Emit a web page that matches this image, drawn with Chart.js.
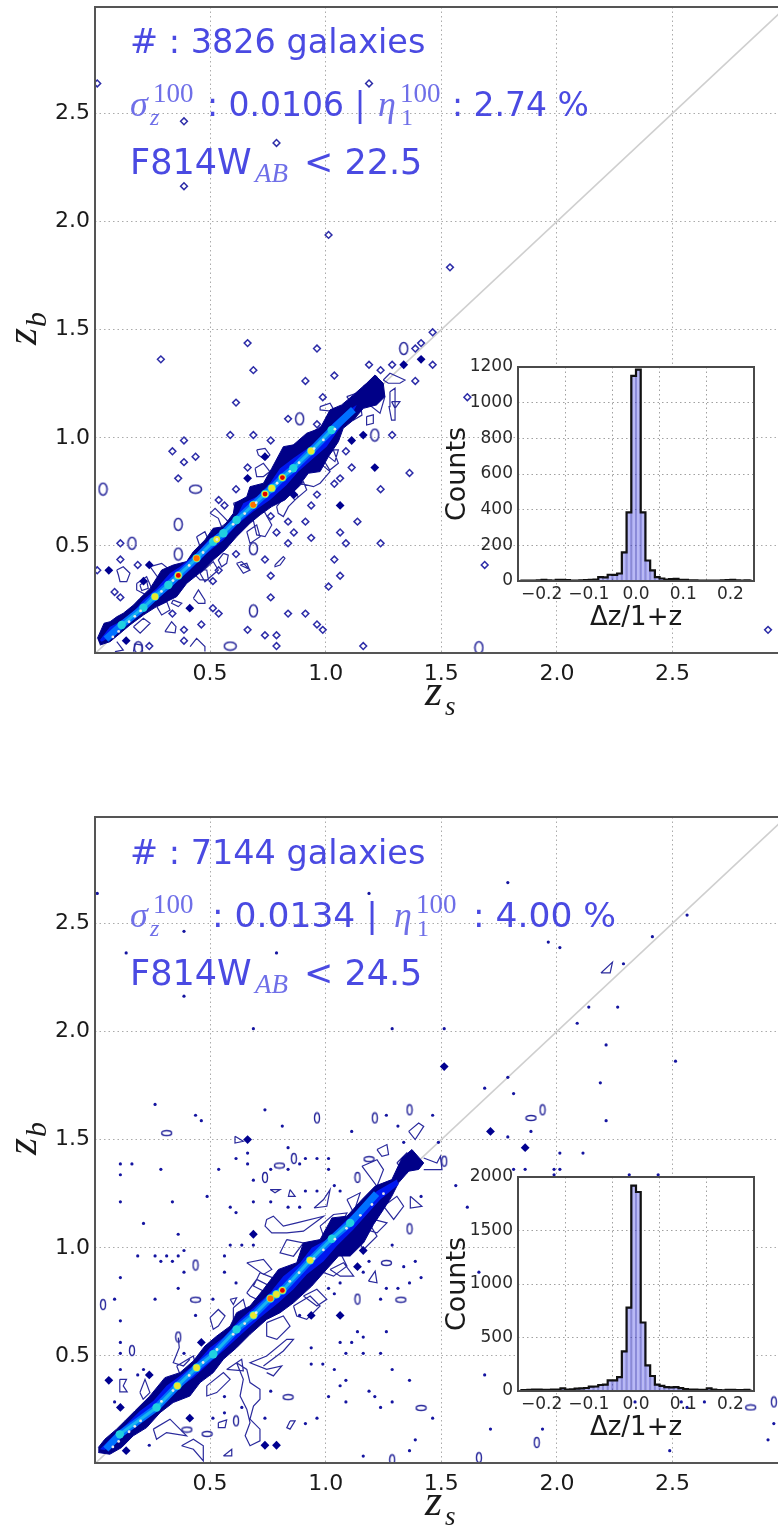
<!DOCTYPE html>
<html>
<head>
<meta charset="utf-8">
<title>zb vs zs</title>
<script src="https://cdn.jsdelivr.net/npm/chart.js@4/dist/chart.umd.min.js"></script>
<style>
html,body{margin:0;padding:0;background:#fff;}
#page{position:relative;width:778px;height:1526px;overflow:hidden;}
canvas{position:absolute;filter:blur(.45px);}
</style>
</head>
<body>
<div id="page">
<canvas id="mainTop" width="778" height="760" style="left:0;top:0"></canvas>
<canvas id="mainBottom" width="778" height="766" style="left:0;top:760px"></canvas>
<canvas id="histTop" width="325" height="290" style="left:440px;top:350px"></canvas>
<canvas id="histBottom" width="325" height="290" style="left:440px;top:1160px"></canvas>
</div>
<script>
const xTicks=[0.5,1.0,1.5,2.0,2.5];
const yTicks=[0.5,1.0,1.5,2.0,2.5];
const diagonal=[[0,0],[3,3]];

// isolated single-bin contours, top panel
const ringsTop=[[.2875,1.3625],[.6625,1.4375],[.9625,1.4125],[.6875,1.3125],[.9125,1.2625],[1.0375,1.2875],[1.1875,1.3375],[1.2375,1.3125],[1.2875,1.3375],[1.4625,1.3375],[1.3875,1.2625],[1.4125,1.4375],[1.3875,1.4125],[.6125,1.1625],[.9875,1.1875],[.8375,1.0875],[.9625,1.0625],[.5875,1.0125],[.6875,1.0125],[.3875,.9875],[.7625,.9875],[1.2875,1.0125],[.3375,.9375],[.4375,.9125],[.3875,.8875],[.6625,.8625],[1.1125,.8625],[1.0875,.9375],[.3625,.8125],[1.3625,.8375],[1.2375,.7625],[1.0625,.8125],[1.0375,.7875],[.6125,.7625],[.5375,.7125],[.5625,.6875],[.9625,.7375],[.9375,.6875],[.7625,.6375],[.8375,.6125],[.9125,.6125],[1.1375,.6125],[.7875,.5625],[.8625,.5625],[.9375,.5375],[1.0625,.5625],[1.0875,.5125],[1.2375,.5125],[.8375,.5125],[.1125,.5125],[.6125,.4625],[.7375,.4375],[1.0375,.4375],[.1125,.4375],[.1875,.4125],[.5375,.3875],[.7625,.3625],[1.0625,.3625],[.5125,.3375],[1.0125,.3125],[.0875,.2875],[.1125,.2625],[.7625,.2625],[.5125,.2125],[.5375,.1875],[.8375,.1875],[.9125,.1875],[.3375,.1875],[.4625,.1375],[.3875,.1125],[.6625,.1125],[.9625,.1375],[.9875,.1125],[.7375,.0875],[.7875,.0875],[.3875,.0625],[.7875,.0375],[1.1625,.0375],[.2375,.0375],[.0125,.3875],[.0125,2.6375],[.3875,2.4625],[1.1875,2.6375],[.7875,2.3625],[.3875,2.1625],[1.0125,1.9375],[1.5375,1.7875],[1.4625,1.4875],[1.6125,1.1875],[1.6875,.4125],[2.9125,.1125]];
const solidTop=[[1.3375,1.3375],[.6625,.8125],[.7375,.9125],[1.0625,.6875],[.4125,.2125],[1.1125,.9875],[1.1625,1.0125],[1.2125,.8625],[.8625,.7375],[.0625,.3875],[.1375,.0625],[.2375,.4125],[1.4125,1.3625],[.2125,.3375]];
const tallTop=[[.0375,.7625],[.1625,.5125],[.3625,.6],[.3625,.4625],[.8875,1.0875],[1.2125,1.0125],[1.3375,1.4125],[.6875,.2],[.6875,.4875],[.19,.03],[1.6625,.03]];
const wideTop=[[.4375,.7625],[.5875,.0375]];
const loopsTop=[
[.097,.389],[.125,.404],[.154,.374],[.14,.335],[.111,.335],[.104,.366],[.097,.389],null,
[.305,.104],[.334,.15],[.353,.127],[.349,.099],[.305,.104],null,
[.414,.035],[.442,.073],[.478,.035],[.478,.012],null,
[.781,.412],[.817,.451],[.824,.443],[.803,.412],[.781,.404],[.781,.412],null,
[.428,.258],[.45,.297],[.478,.25],[.478,.235],[.45,.235],[.428,.258],null,
[.5,.651],[.522,.674],[.558,.636],[.579,.612],[.55,.589],[.536,.628],[.5,.651],null,
[.702,.944],[.738,.951],[.759,.921],[.738,.898],[.709,.921],[.702,.944],null,
[.695,.859],[.731,.882],[.759,.844],[.731,.821],[.702,.821],[.695,.859],null,
[.889,.821],[.932,.867],[.976,.882],[1.019,.844],[.976,.79],[.947,.774],[.889,.79],[.889,.821],null,
[.788,.682],[.846,.759],[.882,.728],[.839,.682],[.817,.636],[.795,.651],[.788,.682],null,
[.687,.62],[.731,.666],[.767,.597],[.738,.543],[.702,.551],[.687,.62],null,
[.615,.42],[.637,.428],[.673,.389],[.644,.374],[.615,.42],null,
[.63,.412],[.659,.42],[.67,.392],[.63,.412],null,
[.558,.466],[.579,.458],[.572,.42],[.55,.404],[.536,.435],[.558,.466],null,
[.183,.327],[.226,.358],[.248,.304],[.226,.273],[.183,.297],[.183,.327],null,
[.197,.32],[.226,.34],[.233,.304],[.205,.294],[.197,.32],null,
[.976,1.144],[1.019,1.16],[1.04,1.121],[.976,1.129],[.976,1.144],null,
[1.177,1.098],[1.206,1.106],[1.206,1.067],[1.177,1.059],[1.177,1.098],null,
[1.249,1.267],[1.278,1.298],[1.343,1.267],[1.321,1.252],[1.271,1.252],[1.249,1.267],null,
[1.278,1.213],[1.3,1.229],[1.3,1.082],[1.285,1.082],[1.274,1.144],[1.278,1.213],null,
[.99,.944],[1.055,.944],[1.04,.89],[1.004,.921],[.99,.944],null,
[1.163,1.237],[1.22,1.283],[1.256,1.19],[1.235,1.113],[1.199,1.144],[1.163,1.237],null,
[1.091,1.19],[1.134,1.206],[1.177,1.175],[1.163,1.144],[1.12,1.152],[1.091,1.19],null,
[.457,.389],[.486,.389],[.493,.343],[.457,.343],[.428,.374],[.457,.389],null,
[.341,.25],[.378,.235],[.363,.22],[.334,.235],[.341,.25],null,
[.097,.058],[.125,.019],[.089,.012],null,
[.169,.012],[.176,.047],[.205,.042],[.209,.012],null,
[1.285,1.167],[1.321,1.167],[1.3,1.136],[1.285,1.167],null,
[.241,.405],[.291,.42],[.327,.389],[.277,.351],[.241,.405],null,
[.442,.543],[.478,.566],[.493,.528],[.457,.497],[.442,.543],null,
[.601,.697],[.659,.72],[.673,.666],[.622,.643],[.601,.697],null,
[.817,.944],[.875,.974],[.904,.928],[.846,.882],[.817,.944],null,
[.918,1.005],[.976,1.051],[.99,.99],[.94,.959],[.918,1.005],null,
[1.105,1.128],[1.148,1.175],[1.157,1.105],[1.12,1.082],[1.105,1.128],null,
[.846,.736],[.904,.797],[.918,.759],[.867,.713],[.846,.736],null,
[.99,.898],[1.033,.944],[1.055,.882],[1.018,.851],[.99,.898],null,
[.169,.127],[.212,.166],[.241,.143],[.198,.097],[.169,.127],null,
[.27,.22],[.313,.243],[.327,.204],[.291,.181],[.27,.22],null,
[.457,.374],[.514,.428],[.536,.389],[.478,.335],[.457,.374],null,
[.659,.566],[.702,.597],[.716,.543],[.673,.512],[.659,.566]
];
const outerTop=[[.013,.073],[.042,.143],[.068,.15],[.097,.173],[.125,.189],[.169,.227],[.197,.258],[.241,.304],[.291,.389],[.341,.412],[.399,.428],[.428,.474],[.478,.528],[.514,.582],[.558,.589],[.601,.651],[.608,.697],[.659,.728],[.673,.774],[.731,.79],[.767,.859],[.817,.959],[.86,.967],[.918,1.021],[.976,1.044],[1.019,1.129],[1.069,1.152],[1.12,1.198],[1.177,1.252],[1.213,1.29],[1.249,1.252],[1.256,1.19],[1.22,1.152],[1.163,1.136],[1.12,1.082],[1.076,1.044],[1.055,.982],[1.012,.913],[.976,.844],[.925,.836],[.882,.774],[.824,.713],[.767,.682],[.716,.643],[.673,.605],[.615,.543],[.565,.482],[.514,.435],[.471,.389],[.399,.327],[.356,.266],[.269,.22],[.212,.181],[.154,.135],[.111,.096],[.068,.058],[.024,.042]];
const innerTop=[[.024,.065],[.068,.127],[.111,.15],[.169,.196],[.212,.25],[.269,.304],[.327,.374],[.37,.404],[.442,.466],[.5,.535],[.558,.574],[.615,.636],[.644,.697],[.702,.728],[.759,.79],[.803,.859],[.86,.905],[.932,.959],[.99,1.005],[1.033,1.067],[1.091,1.121],[1.134,1.152],[1.12,1.121],[1.055,1.036],[1.004,.959],[.947,.905],[.882,.844],[.831,.782],[.759,.713],[.687,.659],[.615,.597],[.558,.528],[.486,.466],[.414,.389],[.356,.335],[.284,.266],[.212,.204],[.14,.143],[.082,.089],[.032,.058]];
const ridgeTop=[[.05,.07],[.118,.135],[.212,.215],[.262,.266],[.32,.32],[.363,.364],[.442,.443],[.514,.52],[.558,.559],[.615,.62],[.687,.69],[.738,.74],[.767,.767],[.813,.816],[.86,.859],[.937,.939],[1.026,1.036],[1.12,1.13]];
const cyanTop=[[.118,.135],[.212,.215],[.262,.266],[.32,.32],[.363,.364],[.442,.443],[.514,.52],[.558,.559],[.615,.62],[.687,.69],[.738,.74],[.767,.767],[.813,.816],[.86,.859],[.937,.939],[1.026,1.036]];
const yellowTop=[[.262,.266],[.363,.364],[.442,.443],[.529,.531],[.687,.69],[.738,.74],[.767,.767],[.813,.816],[.937,.939]];
const redTop=[[.363,.364],[.738,.74],[.813,.816]];
const orangeTop=[[.442,.443],[.687,.69]];
const speckleTop=[[.08,.08],[.105,.105],[.15,.15],[.175,.175],[.2,.2],[.29,.29],[.34,.34],[.41,.41],[.47,.47],[.53,.53],[.6,.6],[.65,.65],[.7,.7],[.79,.79],[.845,.845],[.885,.885],[.95,.95],[.99,.99],[1.04,1.04]];

// isolated single-bin contours, bottom panel
const dotsBottom=[[.2625,1.6625],[.4375,1.6125],[.4625,1.5875],[.7375,1.6375],[.8125,1.5625],[1.1125,1.5375],[1.2625,1.6125],[1.3125,1.5625],[1.4625,1.6125],[.6125,1.4125],[.6625,1.4375],[.6625,1.3875],[.5375,1.3625],[.8375,1.4625],[.8875,1.3875],[.9125,1.4125],[.9625,1.4125],[1.0125,1.4125],[.7625,1.3625],[.8375,1.3625],[1.0125,1.3625],[.6875,1.3125],[1.0375,1.2875],[1.0625,1.2625],[.9125,1.2625],[.9625,1.2625],[.1125,1.3875],[.1625,1.3875],[.1125,1.3375],[.2875,1.3625],[.1125,1.2125],[.3375,1.2125],[.4875,1.2375],[.6875,1.2125],[.7625,1.2125],[.5875,1.1875],[.6125,1.1625],[.8375,1.1875],[.8875,1.1875],[.2125,1.1125],[.3625,1.0625],[.5875,1.0125],[.6375,1.0125],[.6875,1.0125],[1.2875,1.0125],[.1875,.9625],[.2625,.9625],[.3125,.9625],[.3625,.9625],[.2875,.9375],[.3375,.9375],[.3875,.9875],[.5625,.9625],[.3875,.8875],[.5625,.8875],[.1125,.8625],[.6125,.8375],[.3625,.8125],[.0875,.7625],[.2625,.7625],[.5125,.7625],[.4375,.6875],[.1125,.6625],[.8875,.6875],[.1125,.5625],[.1125,.5125],[1.1375,.6125],[1.1625,.5875],[1.2625,.6125],[1.0625,.5625],[1.1125,.5625],[.9375,.5375],[1.0875,.5125],[1.1625,.5125],[1.2375,.5125],[.9375,.4625],[.9875,.4625],[1.0375,.4375],[1.2875,.4375],[1.0875,.3875],[1.0625,.3625],[1.3625,.3875],[1.1875,.3375],[1.2125,.3125],[1.0125,.3125],[1.0875,.2875],[1.2875,.2875],[1.2375,.2625],[1.4625,.2125],[1.3625,.0625],[1.3875,.1125],[1.1625,.0375],[.1125,.4375],[.0875,.2875],[.2125,.4375],[.1875,.4125],[.5625,.3125],[.5625,.2375],[.6375,.2625],[.5125,.2125],[.9125,.1875],[.9625,.2125],[.7375,.2125],[.7625,.3375],[.2375,.0875],[.3875,.5125],[1.4125,.8625],[1.3625,.8375],[1.3875,.9375],[1.3375,.9125],[1.2625,.8125],[1.3125,.8125],[1.2375,.7625],[1.1875,.9375],[1.1625,.8875],[1.0625,.8375],[1.0375,.7875],[1.0125,.8125],[1.4125,1.2375],[1.3375,1.4875],[1.4875,1.4875],
[.0125,2.6375],[.3875,2.4625],[.1375,2.3625],[.7875,2.3625],[.3875,2.1625],[1.1875,2.6375],[1.7875,2.6875],[1.9625,2.4125],[2.0125,2.3875],[2.2875,2.3125],[2.4125,2.4375],[2.5625,2.5375],[2.1375,2.1125],[2.2625,2.1125],[2.0875,2.0375],[.6875,2.0125],[1.2875,2.0125],[1.5125,2.0125],[2.2125,1.9375],[2.1875,1.7625],[2.5125,1.8625],[1.6875,1.7375],[1.7875,1.7875],[1.8125,1.7125],[1.7875,1.5125],[1.8875,1.5375],[2.0125,1.4375],[1.9875,1.3625],[2.1125,1.4375],[2.2125,1.5875],[2.3125,1.3375],[2.4375,1.3375],[1.8125,1.3625],[1.8625,1.3625],[1.9875,1.3375],[2.0125,1.3625],[1.5625,1.2875],[1.6125,1.1875],[1.6625,.8875],[1.6875,.4125],[1.7125,.1625],[1.9375,.1625],[2.6375,.2875],[2.5375,.2875],[2.5625,.2625],[2.9125,.1125],[2.9375,.1875],[2.4875,.0625],[2.3375,.2875]];
const solidBottom=[[.6625,1.5],[.6875,1.0625],[.4625,.5625],[.2375,.4125],[.0625,.3875],[.1125,.2625],[1.1625,.9875],[1.0625,.6875],[.9375,.6875],[.7375,.0875],[.7875,.0875],[1.1375,.9125],[.4125,.2125],[.1375,.0625],[1.7125,1.5375],[1.8625,1.4625],[1.5125,1.8375]];
const tallBottom=[[.9625,1.6],[1.2125,1.6],[1.3625,1.6375],[.8625,1.4125],[.7375,1.325],[1.1375,1.325],[1.3625,1.0875],[.4375,.92],[.0375,.7375],[1.1375,.7625],[.3625,.5875],[.1625,.525],[.6125,.2],[1.2875,.02],[1.5125,1.4],[1.9375,1.6375],[1.9125,.1],[2.9375,.2875],[1.6625,.03]];
const wideBottom=[[.3125,1.53],[.8,1.38],[1.1875,1.41],[.4375,.76],[1.325,.76],[.8375,.31],[.4,.16],[.4875,.14],[1.4125,.26],[1.2625,.93],[2.8375,.2625],[1.8875,1.6]];
const loopsBottom=[
[.615,.469],[.659,.438],[.673,.377],[.716,.346],[.716,.3],[.688,.269],[.673,.208],[.716,.162],[.716,.108],[.673,.085],[.652,.131],[.673,.192],[.659,.254],[.63,.315],[.644,.392],[.615,.469],null,
[.731,.454],[.817,.523],[.861,.577],[.832,.577],[.745,.5],[.673,.469],[.745,.438],[.81,.454],[.774,.408],[.745,.423],null,
[.659,.931],[.731,.946],[.767,.9],[.731,.877],[.659,.931],null,
[.745,1.131],[.774,1.146],[.817,1.1],[.875,1.115],[.991,1.146],[.904,1.077],[.832,1.069],[.767,1.069],[.738,1.1],[.745,1.131],null,
[.832,1.038],[.904,1.023],[.861,.961],[.803,.977],[.832,1.038],null,
[.5,.677],[.536,.715],[.565,.685],[.536,.638],[.514,.623],[.5,.677],null,
[.363,.585],[.367,.538],[.341,.469],[.385,.454],[.413,.485],null,
[.11,.392],[.139,.392],[.125,.362],[.142,.334],[.11,.334],[.11,.392],null,
[.197,.331],[.219,.392],[.24,.331],[.211,.3],[.197,.331],null,
[.255,.162],[.327,.208],[.37,.162],[.399,.131],[.312,.146],[.269,.115],[.255,.162],null,
[.377,.085],[.428,.115],[.471,.085],[.471,.015],[.428,.069],[.377,.085],null,
[.558,.038],[.594,.069],[.594,.038],[.558,.038],null,
[.536,.192],[.572,.205],[.565,.169],[.536,.169],[.536,.192],null,
[.846,.2],[.868,.2],[.846,.162],[.832,.169],[.846,.2],null,
[.95,1.184],[.991,1.223],[1.019,1.269],[1.005,1.192],[.95,1.184],null,
[1.157,1.377],[1.222,1.407],[1.25,1.361],[1.222,1.284],[1.157,1.377],null,
[1.359,1.538],[1.402,1.577],[1.424,1.561],[1.387,1.5],[1.359,1.538],null,
[1.222,1.454],[1.265,1.477],[1.272,1.431],[1.243,1.423],[1.222,1.454],null,
[1.424,1.415],[1.481,1.392],[1.496,1.423],[1.503,1.361],[1.424,1.361],null,
[1.092,1.223],[1.149,1.254],[1.121,1.161],[1.092,1.223],null,
[1.366,1.238],[1.416,1.192],[1.366,1.184],[1.366,1.238],null,
[1.149,1.092],[1.207,1.131],[1.265,1.115],[1.222,1.069],[1.149,1.092],null,
[1.185,.846],[1.214,.892],[1.222,.838],[1.185,.846],null,
[1.019,.9],[1.077,.931],[1.121,.869],[1.063,.869],[1.019,.9],null,
[.904,.777],[.962,.808],[1.005,.762],[.962,.731],[.904,.777],null,
[.572,.438],[.637,.485],[.644,.431],[.572,.438],null,
[.587,.762],[.615,.769],[.601,.738],[.587,.762],null,
[.846,1.269],[.868,1.238],[.839,1.238],[.846,1.269],null,
[.608,1.515],[.644,1.492],[.608,1.484],[.608,1.515],null,
[.716,.885],[.789,.854],[.731,.8],[.688,.823],[.716,.885],null,
[.76,1.269],[.803,1.269],[.781,1.254],[.76,1.269],null,
[2.19,2.27],[2.24,2.32],[2.23,2.27],[2.19,2.27],null,
[.659,.792],[.702,.854],[.76,.823],[.702,.762],[.673,.777],[.659,.792],null,
[.601,.723],[.644,.762],[.659,.7],[.601,.669],[.601,.723],null,
[.356,.454],[.428,.5],[.442,.438],[.385,.377],[.356,.454],null,
[.284,.362],[.341,.408],[.356,.331],[.305,.3],[.284,.362],null,
[.486,.362],[.558,.423],[.587,.392],[.529,.331],[.486,.315],[.486,.362],null,
[.745,.654],[.817,.685],[.846,.638],[.789,.577],[.745,.592],[.745,.654],null,
[.861,.731],[.933,.777],[.976,.731],[.918,.669],[.875,.685],[.861,.731],null,
[.991,.946],[1.063,.977],[1.092,.915],[1.034,.869],[.991,.885],[.991,.946],null,
[1.12,1.069],[1.178,1.131],[1.222,1.054],[1.164,.992],[1.12,1.069],null,
[1.25,1.192],[1.308,1.238],[1.337,1.192],[1.294,1.131],[1.25,1.192],null,
[1.308,1.392],[1.351,1.438],[1.387,1.392],[1.351,1.346],[1.308,1.392],null,
[.976,1.1],[1.034,1.154],[1.092,1.161],[1.048,1.069],[.991,1.054],[.976,1.1],null,
[.89,.946],[.947,1.023],[.976,.961],[.918,.9],[.89,.946],null,
[.154,.208],[.226,.269],[.255,.223],[.183,.169],[.154,.208]
];
const outerBottom=[[.017,.077],[.045,.115],[.096,.162],[.132,.2],[.175,.246],[.24,.315],[.305,.4],[.37,.423],[.428,.477],[.478,.546],[.529,.592],[.587,.638],[.615,.7],[.673,.731],[.731,.808],[.796,.9],[.875,.931],[.904,1.023],[.976,1.038],[1.027,1.138],[1.092,1.146],[1.157,1.223],[1.214,1.285],[1.286,1.315],[1.33,1.415],[1.373,1.454],[1.424,1.392],[1.402,1.362],[1.359,1.354],[1.315,1.3],[1.286,1.238],[1.25,1.177],[1.207,1.108],[1.164,1.023],[1.106,.962],[1.056,.962],[.991,.885],[.94,.823],[.861,.746],[.803,.7],[.745,.669],[.673,.6],[.615,.538],[.558,.485],[.514,.423],[.457,.377],[.413,.315],[.341,.285],[.284,.238],[.226,.169],[.168,.131],[.118,.077],[.067,.046],[.017,.054]];
const innerBottom=[[.024,.069],[.082,.131],[.139,.185],[.197,.246],[.255,.292],[.312,.362],[.37,.408],[.442,.469],[.5,.538],[.558,.585],[.63,.669],[.688,.723],[.76,.792],[.817,.869],[.89,.931],[.94,1.0],[1.005,1.038],[1.077,1.115],[1.149,1.185],[1.222,1.262],[1.308,1.315],[1.315,1.292],[1.236,1.223],[1.178,1.154],[1.12,1.085],[1.048,1.008],[.991,.938],[.918,.877],[.861,.808],[.796,.746],[.716,.677],[.644,.608],[.572,.538],[.507,.477],[.428,.4],[.356,.346],[.284,.292],[.211,.223],[.154,.162],[.103,.115],[.045,.066]];
const ridgeBottom=[[.05,.07],[.11,.138],[.269,.262],[.359,.362],[.442,.446],[.514,.508],[.615,.623],[.688,.688],[.761,.766],[.813,.803],[.933,.942],[1.027,1.042],[1.106,1.115],[1.22,1.25]];
const cyanBottom=[[.11,.138],[.269,.262],[.359,.362],[.442,.446],[.514,.508],[.615,.623],[.688,.688],[.761,.766],[.787,.785],[.813,.803],[.933,.942],[1.027,1.042],[1.106,1.115]];
const yellowBottom=[[.359,.362],[.442,.446],[.688,.688],[.761,.766],[.787,.785],[.813,.803],[.933,.942]];
const redBottom=[[.813,.803]];
const orangeBottom=[[.761,.766]];
const speckleBottom=[[.08,.08],[.105,.105],[.15,.15],[.175,.175],[.2,.2],[.29,.29],[.34,.34],[.41,.41],[.47,.47],[.53,.53],[.6,.6],[.65,.65],[.7,.7],[.845,.845],[.885,.885],[.95,.95],[.99,.99],[1.04,1.04],[1.09,1.09],[1.15,1.15],[1.2,1.2],[1.25,1.25]];

// inset histograms
const binCenters=[-.245,-.235,-.225,-.215,-.205,-.195,-.185,-.175,-.165,-.155,-.145,-.135,-.125,-.115,-.105,-.095,-.085,-.075,-.065,-.055,-.045,-.035,-.025,-.015,-.005,.005,.015,.025,.035,.045,.055,.065,.075,.085,.095,.105,.115,.125,.135,.145,.155,.165,.175,.185,.195,.205,.215,.225,.235,.245];
const countsTop=[2,2,2,2,4,6,3,2,6,7,5,2,2,3,5,6,8,22,20,35,34,42,160,385,1150,1185,385,115,60,22,14,8,11,12,7,6,3,3,2,2,2,2,2,3,5,6,3,2,3,2];
const countsBottom=[8,8,10,12,14,10,10,12,14,24,14,16,22,24,28,40,42,56,60,100,100,130,370,780,1920,1860,640,240,140,60,48,36,34,36,26,18,12,12,10,10,24,14,8,6,10,10,8,8,10,4];
const histXTicks=[-0.2,-0.1,0,0.1,0.2];
const histYTicksTop=[0,200,400,600,800,1000,1200];
const histYTicksBottom=[0,500,1000,1500,2000];

const pts=a=>a.map(p=>p?{x:p[0],y:p[1]}:{x:NaN,y:NaN});

function loopSprite(w,h,lw){
  const c=document.createElement('canvas');
  c.width=w+3;c.height=h+3;
  const g=c.getContext('2d');
  g.strokeStyle='#26269a';g.lineWidth=lw;
  g.beginPath();g.ellipse(c.width/2,c.height/2,w/2,h/2,0,0,Math.PI*2);g.stroke();
  return c;
}

// fills line datasets flagged polyFill as closed contours, using the points the scales placed
const polyFill={id:'polyFill',beforeDatasetDraw(chart,args){
  const ds=chart.data.datasets[args.index];
  if(!ds.polyFill)return;
  const ctx=chart.ctx;
  ctx.save();ctx.beginPath();
  args.meta.data.forEach((p,i)=>i?ctx.lineTo(p.x,p.y):ctx.moveTo(p.x,p.y));
  ctx.closePath();ctx.fillStyle=ds.polyFill;ctx.fill();ctx.restore();
}};
const plotBg={id:'plotBg',beforeDraw(chart,args,o){
  if(!o.color)return;
  const a=chart.chartArea;
  chart.ctx.save();chart.ctx.fillStyle=o.color;chart.ctx.fillRect(a.left,a.top,a.width,a.height);chart.ctx.restore();
}};
const frame={id:'frame',afterDraw(chart,args,o){
  const a=chart.chartArea,ctx=chart.ctx;
  ctx.save();ctx.strokeStyle=o.color;ctx.lineWidth=o.width;
  ctx.beginPath();
  ctx.moveTo(a.right,a.top);ctx.lineTo(a.left,a.top);ctx.lineTo(a.left,a.bottom);ctx.lineTo(a.right,a.bottom);
  if(o.closed)ctx.closePath();
  ctx.stroke();ctx.restore();
}};
const notes={id:'notes',afterDraw(chart,args,o){
  const ctx=chart.ctx;
  (o.items||[]).forEach(n=>{
    ctx.save();ctx.translate(n[1],n[2]);
    if(n[5])ctx.rotate(-Math.PI/2);
    ctx.font=n[3];ctx.fillStyle=n[4];ctx.textBaseline='alphabetic';
    ctx.fillText(n[0],0,0);ctx.restore();
  });
}};
Chart.register(polyFill,plotBg,frame,notes);

const SANS='"DejaVu Sans"',SERIF='"Liberation Serif"';
const BLUE='#4a4ae2',PALE='#6f6fe8',INK='#1a1a1a';
const big='35px '+SANS,mi='italic 36px '+SERIF,sup='27px '+SERIF,sub='24px '+SERIF;
function statsNotes(head,stat1,x1,etaX,stat2,x2,limit,off,statSize){
  const stat=statSize+'px '+SANS;
  return [
    [head,130,53+off,'33.5px '+SANS,BLUE],
    ['σ',130,116+off,mi,PALE],['100',153,102+off,sup,PALE],['z',150,125+off,'italic '+sub,PALE],
    [stat1,x1,116+off,stat,BLUE],
    ['η',etaX,116+off,mi,PALE],['100',etaX+22,102+off,sup,PALE],['1',etaX+23,125+off,sub,PALE],
    [stat2,x2,116+off,stat,BLUE],
    ['F814W',130,174+off,big,BLUE],['AB',255,182+off,'italic 27px '+SERIF,PALE],[limit,304,174+off,big,BLUE]
  ];
}
const axisNotes=(zsBase,zbBase)=>[
  ['z',425,zsBase,'italic 44px '+SERIF,INK],['s',445,zsBase+10,'italic 27px '+SERIF,INK],
  ['z',36,zbBase,'italic 44px '+SERIF,INK,1],['b',46,zbBase-18,'italic 30px '+SERIF,INK,1]
];
const notesTop=statsNotes('# : 3826 galaxies',': 0.0106 |',207,378,': 2.74 %',452,'< 22.5',0,33).concat(axisNotes(705,345));
const notesBottom=statsNotes('# : 7144 galaxies',': 0.0134 |',212,394,': 4.00 %',473,'< 24.5',50.5,34.5).concat(axisNotes(755,395));

function mainChart(id,d){
  const line=(data,color,width)=>({type:'scatter',data:pts(data),showLine:true,borderColor:color,borderWidth:width,pointRadius:0,fill:false,spanGaps:false});
  const spots=(data,color,r)=>({type:'scatter',data:pts(data),showLine:false,backgroundColor:color,borderWidth:0,pointRadius:r});
  new Chart(document.getElementById(id),{
    type:'scatter',
    data:{datasets:[
      spots(d.speckle,'#e8e8e8',1.4),
      spots(d.red,'#e00000',2.4),
      spots(d.orange,'#ff7000',3),
      spots(d.yellow,'#e8e830',3.4),
      spots(d.cyan,'#20d0e0',4.2),
      line(d.cyan,'#18b4f0',3),
      line(d.ridge,'#0070ff',7),
      Object.assign(line(d.inner,'#0018f0',0),{polyFill:'#0018f0'}),
      Object.assign(line(d.outer,'#000088',1),{polyFill:'#000088'}),
      Object.assign(spots(d.solid,'#000090',4.4),{pointStyle:'rectRot'}),
      {data:pts(d.tall),pointStyle:d.tallSprite,pointRadius:4},
      {data:pts(d.wide),pointStyle:d.wideSprite,pointRadius:4},
      d.dotted
        ?spots(d.rings,'#1414a0',1.6)
        :{data:pts(d.rings),pointStyle:'rectRot',pointRadius:3.4,backgroundColor:'rgba(0,0,0,0)',borderColor:'#2c2ca8',borderWidth:1.5},
      line(d.loops,'#2a2a9c',1.2),
      line(diagonal,'#cfcfcf',1.6)
    ]},
    options:{
      responsive:false,animation:false,
      layout:{autoPadding:false,padding:{top:d.top,left:0,right:0,bottom:0}},
      plugins:{legend:{display:false},tooltip:{enabled:false},
        frame:{color:'#555',width:2},notes:{items:d.notes}},
      scales:{
        x:{type:'linear',min:.0028,max:2.9556,
          afterBuildTicks:s=>{s.ticks=xTicks.map(v=>({value:v}));},
          afterFit:s=>{s.height=d.xHeight;s.paddingLeft=0;s.paddingRight=0;},
          grid:{color:'#ababab',tickLength:0},border:{display:false,dash:[1.5,3]},
          ticks:{font:{family:'DejaVu Sans',size:22},color:INK,padding:8,maxRotation:0,callback:v=>v.toFixed(1)}},
        y:{type:'linear',min:.0055,max:2.9907,
          afterBuildTicks:s=>{s.ticks=yTicks.map(v=>({value:v}));},
          afterFit:s=>{s.width=95;s.paddingTop=0;s.paddingBottom=0;},
          grid:{color:'#ababab',tickLength:0},border:{display:false,dash:[1.5,3]},
          ticks:{font:{family:'DejaVu Sans',size:22},color:INK,padding:5,callback:v=>v.toFixed(1)}}
      }
    }
  });
}

mainChart('mainTop',{top:7,xHeight:107,rings:ringsTop,solid:solidTop,tall:tallTop,wide:wideTop,loops:loopsTop,outer:outerTop,inner:innerTop,ridge:ridgeTop,cyan:cyanTop,yellow:yellowTop,orange:orangeTop,red:redTop,speckle:speckleTop,notes:notesTop,tallSprite:loopSprite(8,12,1.5),wideSprite:loopSprite(12,8,1.5)});
mainChart('mainBottom',{top:57,xHeight:63,dotted:true,rings:dotsBottom,solid:solidBottom,tall:tallBottom,wide:wideBottom,loops:loopsBottom,outer:outerBottom,inner:innerBottom,ridge:ridgeBottom,cyan:cyanBottom,yellow:yellowBottom,orange:orangeBottom,red:redBottom,speckle:speckleBottom,notes:notesBottom,tallSprite:loopSprite(5,10,1.4),wideSprite:loopSprite(10,5,1.4)});

function histChart(id,counts,yTickVals,yMax){
  const data=binCenters.map((c,i)=>({x:c,y:counts[i]}));
  new Chart(document.getElementById(id),{
    data:{datasets:[
      {type:'line',data,stepped:'middle',borderColor:'#111',borderWidth:2.2,pointRadius:0,fill:false},
      {type:'bar',data,backgroundColor:'rgba(70,70,230,.38)',borderColor:'rgba(60,60,170,.45)',borderWidth:.7,categoryPercentage:1,barPercentage:1}
    ]},
    options:{
      responsive:false,animation:false,
      layout:{autoPadding:false,padding:{top:17,right:11,left:0,bottom:0}},
      plugins:{legend:{display:false},tooltip:{enabled:false},
        plotBg:{color:'#fff'},frame:{color:'#4a4a4a',width:2,closed:true}},
      scales:{
        x:{type:'linear',offset:false,min:-.25,max:.25,
          afterBuildTicks:s=>{s.ticks=histXTicks.map(v=>({value:v}));},
          afterFit:s=>{s.height=59;s.paddingLeft=0;s.paddingRight=0;},
          grid:{color:'#a0a0a0',tickLength:0},border:{display:false,dash:[1.5,3]},
          title:{display:true,text:'Δz/1+z',font:{family:'DejaVu Sans',size:26},color:INK,padding:{top:0,bottom:6}},
          ticks:{font:{family:'DejaVu Sans',size:17},color:'#2a2a2a',padding:3,maxRotation:0,
            callback:v=>v===0?'0.0':(v<0?'−':'')+Math.abs(v).toFixed(1)}},
        y:{type:'linear',min:0,max:yMax,
          afterBuildTicks:s=>{s.ticks=yTickVals.map(v=>({value:v}));},
          afterFit:s=>{s.width=78;s.paddingTop=0;s.paddingBottom=0;},
          grid:{color:'#a0a0a0',tickLength:0},border:{display:false,dash:[1.5,3]},
          title:{display:true,text:'Counts',font:{family:'DejaVu Sans',size:27},color:INK,padding:{top:2,bottom:0}},
          ticks:{font:{family:'DejaVu Sans',size:17},color:'#2a2a2a',padding:5,callback:v=>String(v)}}
      }
    }
  });
}
histChart('histTop',countsTop,histYTicksTop,1200);
histChart('histBottom',countsBottom,histYTicksBottom,2000);
</script>
</body>
</html>
